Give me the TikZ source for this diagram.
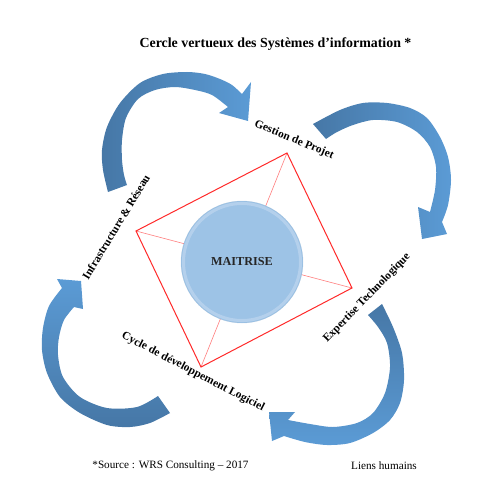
\documentclass[tikz,border=0pt]{standalone}
\usepackage{fontspec}
\setmainfont{Liberation Serif}
\definecolor{arrdark}{HTML}{4677A6}
\definecolor{arrlight}{HTML}{5B9BD5}
\definecolor{discfill}{HTML}{9DC3E6}
\definecolor{discrim}{HTML}{BAD4EE}
\definecolor{diamred}{HTML}{FF2A2A}
\begin{document}
\begin{tikzpicture}[x=1pt,y=-1pt,
  lbl/.style={font=\bfseries\fontsize{11.4}{13}\selectfont, inner sep=0pt},
  foot/.style={font=\fontsize{11.2}{13}\selectfont, inner sep=0pt},
  band/.style={draw=none}]
\fill[white] (0,0) rectangle (500,500);
\useasboundingbox (0,0) rectangle (500,500);

% title
\node[font=\bfseries\fontsize{13.9}{16}\selectfont, inner sep=0pt] (title) at (275.5,44) {Cercle vertueux des Systèmes d’information *};

% arrow A (top left)
\path[band, left color=arrdark, right color=arrlight]
  (108,192) -- plot[smooth] coordinates {(108,192) (103,170) (102,150) (107,127) (120,103) (140,83) (163,74) (187,72) (205,74) (220,79) (232,85) (242,94)}
  -- (251,82) -- (248,121) -- (219,113) -- (228,107)
  -- plot[smooth] coordinates {(228,107) (212,95) (195,90) (175,87) (155,90) (138,99) (126,118) (122,140) (122,160) (124,175) (127,185)} -- cycle;

% arrow B (top right)
\path[band, left color=arrdark, right color=arrlight]
  (313,124) -- plot[smooth] coordinates {(313,124) (340,110) (363,103) (387,103) (410,108) (427,118) (440,137) (448,157) (451,180) (448,205) (442,222)}
  -- (447,234) -- (422,239) -- (418,207) -- (430,212)
  -- plot[smooth] coordinates {(430,212) (435,190) (436,167) (430,147) (417,132) (397,122) (373,120) (353,125) (337,132) (326,139)} -- cycle;

% arrow C (bottom right)
\path[band, top color=arrdark, bottom color=arrlight]
  (382,304) -- plot[smooth] coordinates {(382,304) (393,327) (402,353) (404,380) (400,403) (390,420) (373,433) (350,443) (327,445) (305,442) (284,436)}
  -- (272,441) -- (269,412) -- (295,412) -- (288,420)
  -- plot[smooth] coordinates {(288,420) (310,424) (333,427) (357,423) (373,413) (385,393) (390,367) (387,343) (378,327) (368,315)} -- cycle;

% arrow D (bottom left)
\path[band, top color=arrlight, bottom color=arrdark]
  (170,413) -- plot[smooth] coordinates {(170,413) (150,423) (130,427) (107,425) (80,413) (60,397) (47,373) (42,350) (43,328) (49,306) (62,288)}
  -- (57,279) -- (81,281) -- (83,309) -- (74,307)
  -- plot[smooth] coordinates {(74,307) (64,320) (59,337) (58,355) (63,377) (80,397) (107,408) (137,407) (158,396)} -- cycle;

% diamond
\coordinate (T) at (287,153);
\coordinate (L) at (136,231);
\coordinate (B) at (201,367);
\coordinate (R) at (352,288);
\draw[diamred!60, line width=0.6pt] (T) -- (B);
\draw[diamred!60, line width=0.6pt] (L) -- (R);
\draw[diamred, line width=1pt, line join=miter] (T) -- (R) -- (B) -- (L) -- cycle;

% central disc
\node[circle, minimum size=122pt, inner sep=0pt, fill=discfill] (core) at (242,262) {};
\draw[discrim, line width=3pt, opacity=0.8] (core.center) circle (58.5);
\draw[discfill!90!black, line width=0.4pt, opacity=0.4] (core.center) circle (61);
\node[font=\bfseries\fontsize{12.2}{14}\selectfont, text=black!85, inner sep=0pt] (maitrise) at (core.center) {MAITRISE};

% labels
\node[lbl, rotate=-22.6] (gp) at (294,140) {Gestion de Projet};
\node[lbl, rotate=58.9] (ir) at (116,227) {Infrastructure \& Réseau};
\node[lbl, rotate=46] (et) at (367,298) {Expertise Technologique};
\node[lbl, rotate=-27.5] (cd) at (193,372) {Cycle de développement Logiciel};

% footer
\node[foot] (src) at (170.5,466) {*Source : WRS Consulting – 2017};
\node[foot] (lh) at (384,466) {Liens humains};
\end{tikzpicture}
\end{document}
